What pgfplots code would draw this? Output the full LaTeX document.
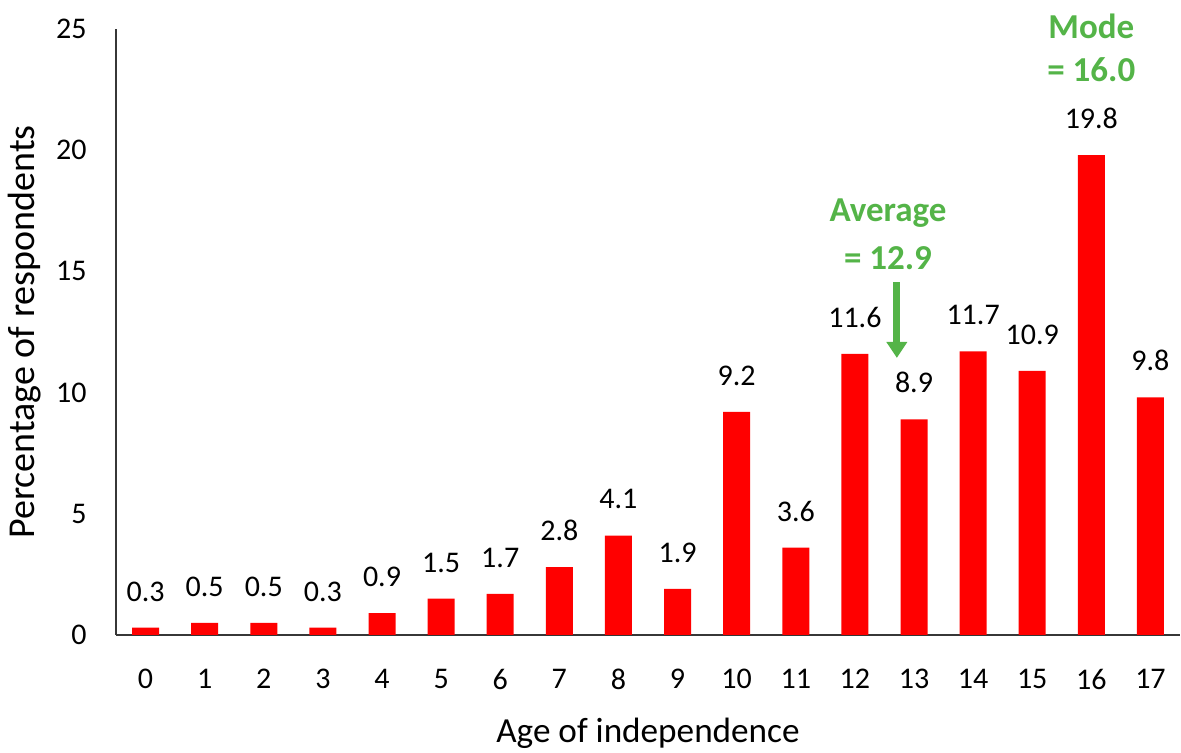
\documentclass[border=0pt]{standalone}
\usepackage{fontspec}
\setmainfont{Carlito}
\usepackage{pgfplots}
\pgfplotsset{compat=1.18}
\usetikzlibrary{arrows.meta}
\definecolor{anngreen}{RGB}{84,180,72}
\definecolor{axgray}{RGB}{55,55,55}
\begin{document}
\fontsize{15}{18}\selectfont
\begin{tikzpicture}
\begin{axis}[
  name=ax,
  scale only axis, width=532pt, height=303pt,
  xmin=-0.5, xmax=17.5, ymin=0, ymax=25,
  axis lines=left,
  axis line style={-, line width=1pt, color=axgray},
  xtick={0,...,17}, ytick={0,5,...,25},
  tick style={draw=none}, major tick length=0pt,
  /pgf/number format/assume math mode=true,
  xticklabel style={yshift=-12pt},
  yticklabel style={xshift=-9.5pt},
  every axis y label/.style={at={(axis description cs:0,0.5)}, xshift=-40.5pt, rotate=90, anchor=base, font=\fontsize{19}{22}\selectfont},
  every axis x label/.style={at={(axis description cs:0.5,0)}, yshift=-53.5pt, anchor=base, font=\fontsize{17.6}{21}\selectfont},
  xlabel={Age of independence},
  ylabel={Percentage of respondents},
  ybar, bar width=13.5pt,
  nodes near coords,
  every node near coord/.append style={yshift=8pt, black, /pgf/number format/fixed, /pgf/number format/fixed zerofill, /pgf/number format/precision=1},
  clip=false,
]
\addplot[fill=red, draw=none] coordinates {
(0,0.3) (1,0.5) (2,0.5) (3,0.3) (4,0.9) (5,1.5) (6,1.7) (7,2.8) (8,4.1)
(9,1.9) (10,9.2) (11,3.6) (12,11.6) (13,8.9) (14,11.7) (15,10.9) (16,19.8) (17,9.8)};
\node[text=anngreen, font=\fontsize{17.5}{21}\selectfont\bfseries] at (axis cs:16,25.12) {Mode};
\node[text=anngreen, font=\fontsize{17.5}{21}\selectfont\bfseries] at (axis cs:16,23.33) {= 16.0};
\node[text=anngreen, font=\fontsize{17.5}{21}\selectfont\bfseries] at (axis cs:12.56,17.4) {Average};
\node[text=anngreen, font=\fontsize{17.5}{21}\selectfont\bfseries] at (axis cs:12.56,15.55) {= 12.9};
\draw[anngreen, line width=3.5pt, -{Triangle[width=10pt,length=8pt]}] (axis cs:12.71,14.56) -- (axis cs:12.71,11.43);
\end{axis}
\pgfresetboundingbox
\path[use as bounding box] ([shift={(-58pt,-59pt)}]ax.south west) rectangle ([shift={(0.5pt,14.5pt)}]ax.north east);
\end{tikzpicture}
\end{document}
